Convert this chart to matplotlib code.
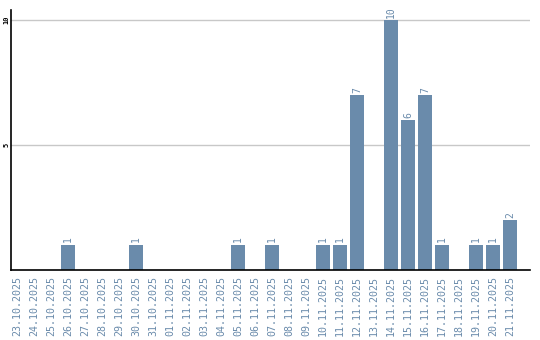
import matplotlib
matplotlib.use('Agg')
import matplotlib.pyplot as plt
import numpy as np

dates = ['23.10.2025', '24.10.2025', '25.10.2025', '26.10.2025', '27.10.2025', '28.10.2025',
         '29.10.2025', '30.10.2025', '31.10.2025', '01.11.2025', '02.11.2025', '03.11.2025',
         '04.11.2025', '05.11.2025', '06.11.2025', '07.11.2025', '08.11.2025', '09.11.2025',
         '10.11.2025', '11.11.2025', '12.11.2025', '13.11.2025', '14.11.2025', '15.11.2025',
         '16.11.2025', '17.11.2025', '18.11.2025', '19.11.2025', '20.11.2025', '21.11.2025']
counts = [0, 0, 0, 1, 0, 0, 0, 1, 0, 0, 0, 0, 0, 1, 0, 1, 0, 0,
          1, 1, 7, 0, 10, 6, 7, 1, 0, 1, 1, 2]

bar_color = '#6a8bab'
text_color = '#6a8bab'

fig = plt.figure(figsize=(5.4, 3.4), dpi=100)
ax = fig.add_axes([11 / 540, 70 / 340, 519 / 540, 260 / 340])

x = np.arange(len(dates))
bars = ax.bar(x, counts, width=0.82, color=bar_color, zorder=2)

for xi, v in zip(x, counts):
    if v > 0:
        ax.text(xi, v + 0.1, str(v), rotation=90, ha='center', va='bottom',
                color=text_color, fontsize=7, family='DejaVu Sans Mono')

ax.set_xlim(-0.35, 30.18)
ax.set_ylim(0, 10.4)
ax.set_yticks([5, 10])
ax.set_yticklabels(['5', '10'], rotation=90, va='center', fontsize=5,
                   family='DejaVu Sans Mono', fontweight='bold')
ax.set_xticks(x)
ax.set_xticklabels(dates, rotation=90, color=text_color, fontsize=7.2,
                   family='DejaVu Sans Mono')
ax.tick_params(axis='both', length=0)
ax.tick_params(axis='y', pad=1)
ax.tick_params(axis='x', pad=4)
ax.grid(axis='y', color='#c8c8c8', linewidth=1, zorder=1)

for s in ['top', 'right']:
    ax.spines[s].set_visible(False)
ax.spines['left'].set_color('black')
ax.spines['bottom'].set_color('black')
ax.spines['left'].set_linewidth(1.2)
ax.spines['bottom'].set_linewidth(1.2)

plt.savefig('out.png', dpi=100)
